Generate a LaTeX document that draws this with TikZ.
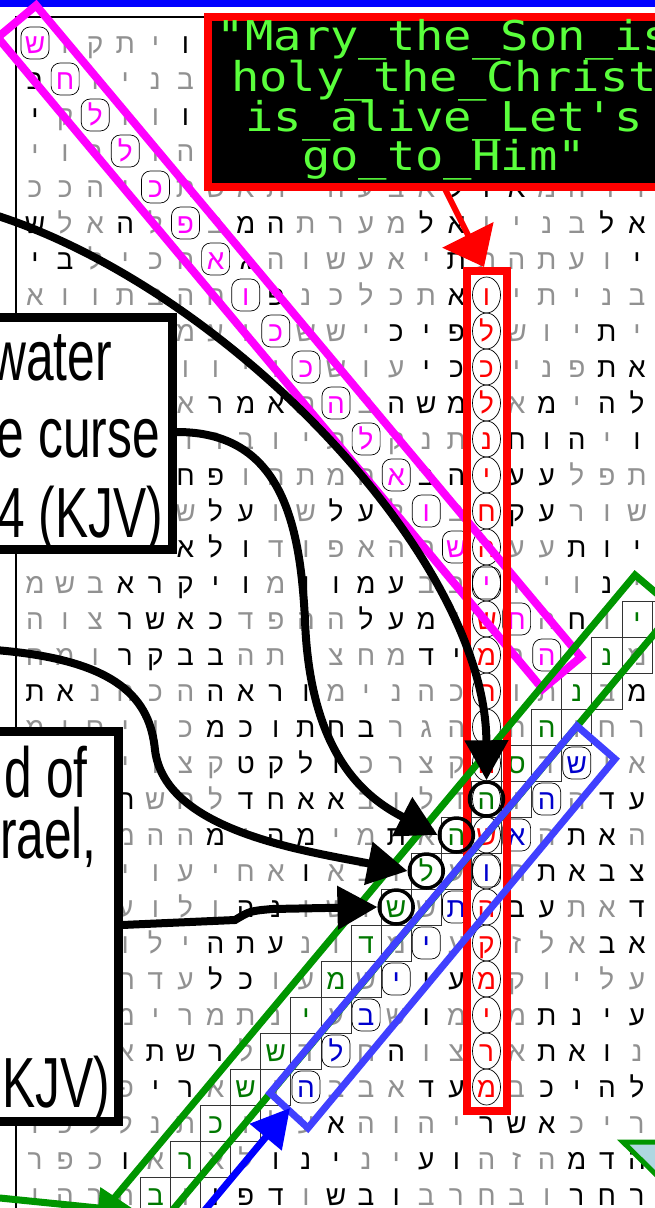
\documentclass[tikz,border=0pt]{standalone}
\usepackage{fontspec}
\usepackage{graphicx}
\usetikzlibrary{arrows.meta,calc}
\newfontfamily\heb[Script=Hebrew]{Liberation Sans}
\newfontfamily\lsans{Liberation Sans}
\newfontfamily\dmono{DejaVu Sans Mono}
\definecolor{mymag}{RGB}{255,0,255}
\definecolor{myred}{RGB}{255,0,0}
\definecolor{mygreenl}{RGB}{0,150,0}
\definecolor{mygreent}{RGB}{0,120,0}
\definecolor{mybluer}{RGB}{64,64,255}
\definecolor{myblue}{RGB}{0,0,255}
\definecolor{mybluet}{RGB}{0,0,205}
\definecolor{mytxt}{RGB}{90,255,60}
\definecolor{lightl}{RGB}{145,145,145}
\definecolor{arrowfill}{RGB}{175,215,225}
\tikzset{
  hl/.style={font=\heb\fontsize{28}{28}\selectfont, inner sep=0pt, anchor=base, text=lightl},
  gbox/.style={draw=black!80, line width=0.9pt},
  thinc/.style={draw=black, line width=0.7pt},
  tbox/.style={draw=black, fill=white, line width=9pt, inner sep=0pt, outer sep=0pt},
  btxt/.style={font=\lsans\fontsize{71}{71}\selectfont, inner sep=0pt, anchor=base east},
  mtxt/.style={font=\dmono\fontsize{41}{41}\selectfont, text=mytxt, inner sep=0pt, anchor=base},
  barrow/.style={draw=black, line width=8pt, -{Triangle[length=40pt,width=42pt]}},
  bcirc/.style={circle, draw=black, line width=3.5pt, minimum size=34pt, inner sep=0pt}
}
\newcommand\hgrow[2]{\def\hrw{#1}\foreach \hitem [count=\hc from 0] in {#2}{\expandafter\hgcell\hitem\relax}}
\def\hgcell#1#2\relax{\ifx-#1\else\ifx*#1\node[hl,text=black] (g\hrw-\hc) at (35+30.1*\hc,53+36*\hrw) {#2};\else\node[hl] (g\hrw-\hc) at (35+30.1*\hc,53+36*\hrw) {#1#2};\fi\fi}
\newcommand\rov[2]{\draw[thinc] (35+30.1*#2,43+36*#1) ellipse [x radius=14pt, y radius=18pt];}
\newcommand\rrc[2]{\draw[thinc,rounded corners=9pt] (35+30.1*#2-14,43+36*#1-16) rectangle (35+30.1*#2+14,43+36*#1+16);}
\begin{document}
\begin{tikzpicture}[x=1pt,y=-1pt]
\useasboundingbox (0,0) rectangle (655,1208);
\clip (0,0) rectangle (655,1208);
\fill[white] (0,0) rectangle (655,1208);
\fill[myblue] (0,0) rectangle (655,7);
\draw[line width=1.2pt] (16,1215) -- (16,17) -- (660,17);
% green letter boxes
\foreach \rw in {16,...,32}{\pgfmathsetmacro\gx{35+30.1*(36-\rw)}\pgfmathsetmacro\gy{43+36*\rw}
  \draw[gbox] (\gx-15.05,\gy-18) rectangle (\gx+45.15,\gy+18);
  \draw[gbox] (\gx+15.05,\gy-18) -- (\gx+15.05,\gy+18);}
% letter grid
\hgrow{0}{-,ו,ק,ת,י,*ו,-,-,-,-,-,-,-,-,-,-,-,-,-,-,-}
\hgrow{1}{*ב,-,ו,י,נ,ב,-,-,-,-,-,-,-,-,-,-,-,-,-,-,-}
\hgrow{2}{*י,ק,-,ו,ו,*ו,-,-,-,-,-,-,-,-,-,-,-,-,-,-,-}
\hgrow{3}{י,ו,ר,-,ו,ה,-,-,-,-,-,-,-,-,-,-,-,-,-,-,-}
\hgrow{4}{כ,כ,ה,י,-,ת,ש,א,ת,י,ה,ע,ב,א,*ל,*ו,*א,מ,ה,ד,ר}
\hgrow{5}{*ש,ל,א,*ה,ל,-,ב,*מ,*ה,ת,ר,ע,מ,*ל,*א,ו,י,נ,ב,*ל,*א}
\hgrow{6}{*י,*ב,ל,י,כ,ה,-,*ג,ה,ו,ש,ע,א,י,*ת,ת,ה,ת,ע,ו,*י}
\hgrow{7}{א,ו,ו,ת,ב,ה,ח,-,*פ,נ,כ,ל,כ,ת,*א,-,י,ת,י,נ,ב}
\hgrow{8}{-,-,-,-,-,מ,ע,ו,-,ש,ש,י,*כ,*י,*פ,-,ש,ו,י,*ת,י}
\hgrow{9}{-,-,-,-,-,ו,ו,י,ו,-,ש,ו,ע,*י,*כ,-,י,נ,פ,*ת,*א}
\hgrow{10}{-,-,-,-,-,א,*ר,*מ,*א,ת,-,ב,*ה,*ש,*מ,-,א,*מ,י,*ה,*ל}
\hgrow{11}{-,-,-,-,-,ד,ר,ב,ו,י,ת,-,ק,נ,ת,-,*ח,*ו,*ה,י,*ו}
\hgrow{12}{-,-,-,-,-,*ח,*פ,ו,ה,ת,מ,ה,-,*ב,*ה,-,*ע,*ע,ל,פ,ת}
\hgrow{13}{-,-,-,-,-,ש,*ל,*ע,ו,ש,*ל,*ע,ל,-,ב,-,*ק,*ע,ר,ו,ש}
\hgrow{14}{-,-,-,-,-,*א,*ל,*ו,ד,ו,פ,א,ה,ה,-,-,ע,ע,*ת,*ו,*י}
\hgrow{15}{מ,ש,ב,*א,*ר,*ק,*י,*ו,מ,*ו,*ו,*מ,*ע,ב,ב,-,ו,י,ו,*נ,י}
\hgrow{16}{ה,ו,צ,*ר,*ש,*א,*כ,ד,פ,ה,ה,*ל,*ע,*מ,ו,-,-,ה,*ח,ו,-}
\hgrow{17}{ח,מ,ו,*ר,*ק,*ב,*ב,ה,ת,י,צ,ח,מ,*ד,*י,-,ר,-,ו,-,מ}
\hgrow{18}{*ת,*א,נ,ה,כ,ה,*ה,*א,*ר,*ו,מ,י,נ,ה,כ,-,ו,ת,-,ב,*מ}
\hgrow{19}{מ,ו,ם,י,ו,כ,*מ,*כ,*ו,*ת,*ח,*ב,ר,ג,ה,-,ח,-,ו,ח,ר}
\hgrow{20}{-,-,-,י,ו,צ,ק,*ט,*ק,*ל,*ו,כ,ר,צ,ק,-,-,ד,-,ו,א}
\hgrow{21}{-,-,-,*ח,ש,ח,ל,*ד,*ח,*א,*א,ב,ו,ל,ד,-,ו,-,ה,*ד,*ע}
\hgrow{22}{-,-,-,מ,ה,ה,*מ,י,*ה,*מ,י,מ,*ת,א,-,-,-,ה,*ת,*א,ה}
\hgrow{23}{-,-,-,י,ו,ע,י,ח,א,*ו,א,ב,ו,-,ע,-,ת,*ת,*א,*ב,*צ}
\hgrow{24}{-,-,-,ע,ו,ל,ו,*ה,*נ,ו,ש,ו,-,ש,-,-,*ב,*ע,ת,א,*ד}
\hgrow{25}{-,-,-,ו,ל,י,*ה,*ת,*ע,נ,ו,-,מ,-,ע,-,ז,ל,א,*ב,*א}
\hgrow{26}{-,-,-,ת,ד,ע,*ל,*כ,ו,ע,-,ש,-,*ו,*ע,-,ק,ו,י,ל,ע}
\hgrow{27}{-,-,-,מ,י,ר,מ,ת,נ,-,ע,-,ש,*ו,מ,-,מ,*ת,*נ,*י,*ע}
\hgrow{28}{-,-,-,א,*ת,*ש,*ר,ל,-,ד,-,ח,*ה,ו,צ,-,א,*ת,*א,*ו,נ}
\hgrow{29}{-,-,-,פ,*י,*ר,א,-,ו,-,ב,ב,א,*ד,*ע,-,ב,*כ,*י,*ה,*ל}
\hgrow{30}{ו,כ,ל,ל,נ,ת,-,ו,ל,ע,*א,ה,ו,ה,י,*ר,*ש,*א,כ,י,ר}
\hgrow{31}{ר,פ,כ,*ו,א,-,א,ל,*ו,*נ,*י,נ,י,*ע,*ו,ה,ז,ה,*מ,*ד,*ה}
\hgrow{32}{ו,ה,ר,ה,-,ו,*ו,*פ,*ד,ו,*ש,*ב,*ו,ב,ר,ח,ב,ו,*ר,*ח,*ר}
% coloured letters
\foreach \rw/\lt in {0/ש,1/ח,2/ל,3/ל,4/כ,5/פ,6/א,7/ו,8/כ,9/כ,10/ה,11/ל,12/א,13/ו,14/ש,15/י,16/ח,17/ה}
  {\node[hl,text=mymag] (mg\rw) at (35+30.1*\rw,53+36*\rw) {\lt}; \rrc{\rw}{\rw}}
\foreach \rw/\lt in {7/ו,8/ל,9/כ,10/ל,11/נ,12/י,13/ח,14/ה,16/ש,17/מ,18/ח,19/ו,20/ה,22/ש,24/ה,25/ק,26/מ,27/י,28/ר,29/מ}
  {\node[hl,text=myred] (rd\rw) at (35+30.1*15,53+36*\rw) {\lt};}
\foreach \rw in {7,...,29}{\rov{\rw}{15}}
\foreach \rw/\lt in {16/י,17/נ,18/נ,19/ה,20/ס,21/ה,22/ה,23/ל,24/ש,25/ד,26/מ,27/י,28/ש,29/ש,30/כ,31/ר,32/ב}
  {\node[hl,text=mygreent] (gn\rw) at (35+30.1*36-30.1*\rw,53+36*\rw) {\lt};}
\foreach \rw/\lt in {20/ש,21/ה,22/א,23/ו,24/ת,25/י,26/י,27/ב,28/ל,29/ה}
  {\node[hl,text=mybluet] (bl\rw) at (35+30.1*38-30.1*\rw,53+36*\rw) {\lt}; \pgfmathtruncatemacro\bc{38-\rw}\rrc{\rw}{\bc}}
% ELS frames
\draw[mymag, line width=8pt, line join=miter] (36.1,5.4) -- (580.9,657) -- (542.6,689) -- (-2.3,37.4) -- cycle;
\node[draw=myred, line width=8pt, minimum width=40pt, minimum height=840pt, anchor=north west, inner sep=0pt, outer sep=0pt] (redcol) at (467,271) {};
\draw[mygreenl, line width=7pt, line join=miter] (87.6,1230) -- (635,575) -- (675,609) -- (156,1230);
\draw[mybluer, line width=7pt, line join=miter] (577,726) -- (615,759) -- (308,1128) -- (270,1093) -- cycle;
% black circles
\node[bcirc] (c21) at (35+30.1*15,43+36*21) {};
\node[bcirc] (c22) at (35+30.1*14,43+36*22) {};
\node[bcirc] (c23) at (35+30.1*13,43+36*23) {};
\node[bcirc] (c24) at (35+30.1*12,43+36*24) {};
% coloured arrows
\coordinate (ba0) at (195,1222);
\coordinate (btip) at (290,1108);
\draw[myblue, line width=7pt, -{Triangle[length=38pt,width=40pt]}] (ba0) -- (btip);
\coordinate (ga0) at (-10,1197);
\coordinate (ga1) at (138,1212);
\draw[mygreenl, line width=7pt, -{Triangle[length=40pt,width=40pt]}] (ga0) -- (ga1);
\filldraw[fill=arrowfill, draw=mygreenl, line width=5pt, line join=miter] (623,1142) -- (700,1142) -- (700,1218) -- cycle;
% text boxes
\node[tbox, anchor=north east, minimum width=200pt, minimum height=231.5pt] (box1) at (172.5,317.5) {};
\node[btxt] (w1) at (112,380) {\scalebox{0.7}[1]{water}};
\node[btxt] (w2) at (160,457) {\scalebox{0.7}[1]{e curse}};
\node[btxt] (w3) at (163,537) {\scalebox{0.7}[1]{4 (KJV)}};
\node[tbox, anchor=north east, minimum width=150pt, minimum height=390pt] (box2) at (118,731) {};
\node[btxt] (w4) at (88,797) {\scalebox{0.7}[1]{d of}};
\node[btxt] (w5) at (97,858) {\scalebox{0.7}[1]{rael,}};
\node[btxt] (w6) at (110,1107) {\scalebox{0.7}[1]{KJV)}};
% black arrows
\coordinate (a0) at (-5,215);
\draw[barrow] (a0) .. controls (230,290) and (486,560) .. (c21.north);
\coordinate (b0) at (177,432);
\draw[barrow] (b0) .. controls (280,432) and (300,520) .. (305,620) .. controls (310,760) and (370,800) .. (c22.west);
\coordinate (cc0) at (-5,650);
\draw[barrow] (cc0) .. controls (120,660) and (150,700) .. (155,750) .. controls (165,830) and (300,850) .. (c23.west);
\coordinate (d0) at (122,925);
\draw[barrow] (d0) -- (235,920) .. controls (250,911) .. (272,909) -- (c24.west);
% message box
\node[fill=black, draw=myred, line width=8pt, minimum width=473pt, minimum height=170pt, anchor=north west, inner sep=0pt, outer sep=0pt] (mary) at (207.5,17) {};
\node[mtxt] (m1) at (444,50) {\scalebox{1.15}[1]{\char"22 Mary\_the\_Son\_is}};
\node[mtxt] (m2) at (444,91) {\scalebox{1.15}[1]{holy\_the\_Christ}};
\node[mtxt] (m3) at (444,131) {\scalebox{1.15}[1]{is\_alive\_Let\char"27 s}};
\node[mtxt] (m4) at (444,170) {\scalebox{1.15}[1]{go\_to\_Him\char"22}};
\draw[myred, line width=6pt, -{Triangle[length=36pt,width=56pt]}] (mary.south) -- ([shift={(-3pt,4pt)}]redcol.north);
\end{tikzpicture}
\end{document}
